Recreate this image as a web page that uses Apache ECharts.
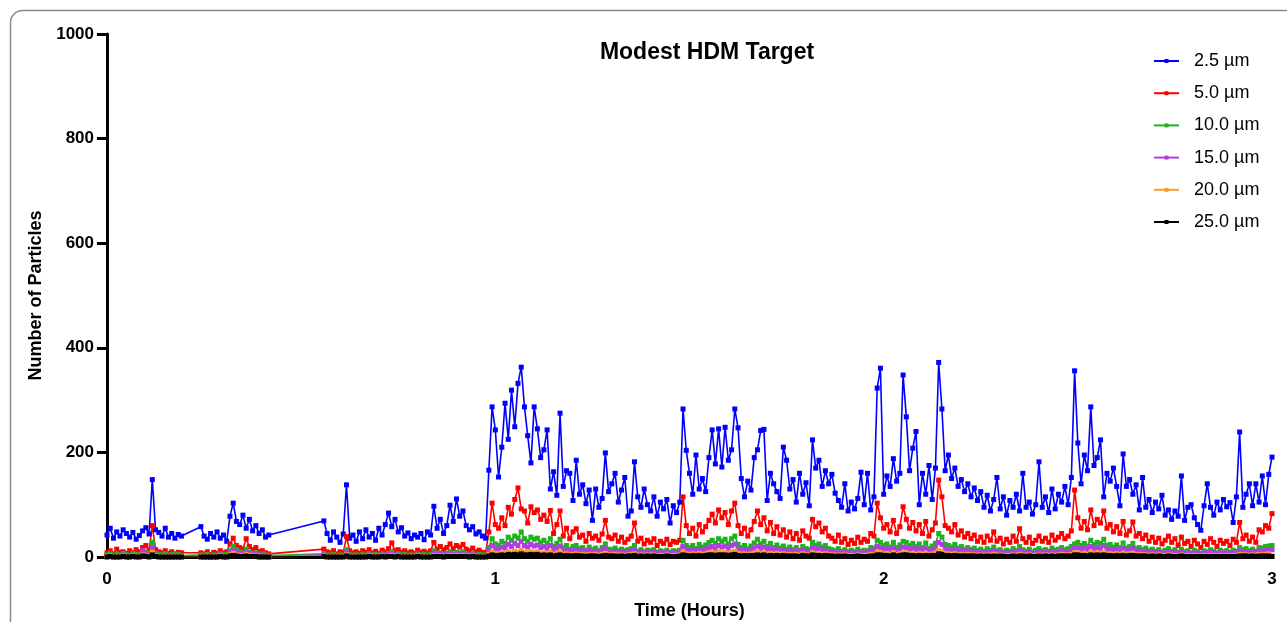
<!DOCTYPE html>
<html>
<head>
<meta charset="utf-8">
<title>Modest HDM Target</title>
<script src="https://cdn.jsdelivr.net/npm/echarts@6/dist/echarts.min.js"></script>
<style>
  html, body { margin: 0; padding: 0; background: #ffffff; }
  #chart { width: 1287px; height: 622px; }
</style>
</head>
<body>
<div id="chart"></div>
<script>
// Particle counter log: one reading every 30 s, recorded in three runs.
const SAMPLES_PER_HOUR = 120;
const RUN_START = [0, 29, 67];           // sample index where each run begins

const SIZE_LABELS = ['2.5 µm', '5.0 µm', '10.0 µm', '15.0 µm', '20.0 µm', '25.0 µm'];
const SIZE_COLORS = ['#0000ff', '#ff0000', '#1db31d', '#b43ce6', '#ff9a2e', '#000000'];
const X_TICKS = [0, 1, 2, 3];
const Y_TICKS = [0, 200, 400, 600, 800, 1000];

// counts per reading, one array per run
const count2_5 = [
  [42,55,36,48,40,52,45,38,47,34,41,50,56,44,148,52,47,40,55,38,45,36,43,40],
  [58,40,34,45,38,48,36,42,30,78,103,68,62,80,55,72,50,60,45,52,38,42],
  [69,45,32,
   48,38,28,44,138,36,42,30,48,35,
   52,38,45,32,55,42,62,84,58,72,
   48,56,40,46,35,42,38,45,33,48,
   42,97,55,72,45,60,99,68,111,78,
   88,60,52,58,44,48,40,36,166,287,
   243,153,210,294,225,319,249,332,363,287,
   232,180,287,245,190,205,243,130,163,118,
   275,135,165,160,108,185,120,138,102,128,
   70,130,95,112,199,125,140,160,105,128,
   152,78,88,182,115,95,130,100,88,115,
   78,105,92,110,65,98,85,105,283,204,
   160,120,195,130,150,125,190,243,178,245,
   172,248,185,205,283,247,150,115,145,128,
   190,205,242,244,108,160,140,125,112,210,
   185,130,148,105,160,120,142,98,224,170,
   185,135,165,140,158,122,108,95,140,88,
   105,92,112,162,100,160,90,115,323,361,
   120,155,135,188,145,160,348,268,165,208,
   240,100,160,120,175,110,170,372,283,165,
   195,150,170,135,148,125,140,115,132,108,
   125,95,118,88,110,152,92,115,80,108,
   95,120,88,160,95,105,82,100,182,95,
   115,85,130,92,120,105,135,100,152,356,
   218,140,195,165,287,175,190,224,115,160,
   145,170,135,98,197,135,148,120,138,90,
   152,95,110,85,105,92,118,80,90,72,
   88,78,155,70,95,100,75,62,51,98,
   140,95,80,105,90,110,96,104,66,115,
   239,95,120,140,98,140,105,155,100,158,191]
];

const count5_0 = [
  [8,12,6,15,9,10,7,12,8,14,10,18,22,12,60,14,10,8,12,7,10,6,9,8],
  [8,6,10,5,9,7,12,8,10,25,36,22,18,15,35,20,14,18,10,12,8,6],
  [15,10,8,
   12,6,10,8,39,12,8,10,7,12,
   9,14,8,11,7,13,10,16,27,12,
   14,9,12,8,10,7,13,9,11,8,
   12,28,15,20,14,18,25,16,22,19,
   24,15,12,17,10,13,9,8,48,103,
   62,55,75,60,95,82,110,132,92,88,
   65,96,85,90,72,80,68,89,45,62,
   88,40,55,35,48,54,38,42,30,45,
   36,40,32,44,70,38,35,42,30,38,
   28,34,40,65,30,36,25,32,28,35,
   22,30,26,34,24,30,28,32,115,60,
   45,55,40,62,48,58,70,82,65,90,
   75,85,62,88,103,60,45,55,40,52,
   68,88,62,75,50,66,45,58,42,52,
   38,48,35,45,32,50,40,36,72,58,
   65,48,55,40,36,30,42,28,35,24,
   32,26,38,28,34,30,45,40,103,75,
   55,62,48,70,45,58,96,72,55,66,
   50,62,45,68,40,52,65,147,115,60,
   55,48,62,42,50,38,45,35,42,30,
   38,28,40,32,48,30,36,25,34,28,
   40,30,54,35,28,38,26,32,40,30,
   36,28,42,32,38,45,35,40,50,128,
   75,55,68,52,90,60,72,65,88,55,
   62,48,58,45,68,42,50,67,40,45,
   35,42,30,38,28,36,25,32,40,28,
   35,22,38,26,30,20,32,25,18,30,
   24,35,28,20,32,26,30,22,34,28,
   66,35,42,30,38,28,52,48,60,55,83]
];

const count10_0 = [
  [4,6,3,5,4,7,5,3,6,4,5,8,10,6,28,7,5,4,6,3,5,4,5,3],
  [4,3,5,2,4,3,6,4,5,12,20,14,10,8,15,9,7,8,5,6,4,3],
  [6,4,3,
   5,2,4,3,14,5,3,4,2,5,
   3,6,4,5,3,6,4,7,10,5,
   6,4,5,3,4,3,6,4,5,3,
   5,12,6,8,5,7,10,6,9,8,
   10,6,5,7,4,5,4,3,18,35,
   25,22,30,26,38,32,40,36,48,35,
   30,38,34,36,28,32,26,35,20,26,
   34,18,22,15,20,22,16,18,13,19,
   14,17,12,18,25,15,14,17,12,15,
   12,14,16,22,11,14,10,13,12,14,
   9,12,10,13,9,12,11,13,32,22,
   18,22,16,24,19,23,28,32,26,35,
   30,34,25,35,40,24,18,22,16,21,
   27,34,25,30,20,26,18,23,17,21,
   15,19,14,18,13,20,16,14,28,22,
   25,19,22,16,14,12,16,11,14,10,
   13,10,15,11,13,12,18,16,32,28,
   22,25,19,28,18,23,30,28,22,26,
   20,25,18,27,16,21,26,45,38,24,
   22,19,24,17,20,15,18,14,17,12,
   15,11,16,13,19,12,14,10,13,11,
   16,12,20,14,11,15,10,13,16,12,
   14,11,17,13,15,18,14,16,20,25,
   28,22,26,21,32,24,28,26,34,22,
   24,19,23,18,27,17,20,26,16,18,
   14,17,12,15,11,14,10,13,16,11,
   14,9,15,10,12,8,13,10,7,12,
   10,14,11,8,13,10,12,9,13,11,
   18,14,16,12,15,11,18,17,20,21,22]
];

const count15_0 = [
  [2,3,1,3,2,4,3,1,3,2,3,12,6,3,18,4,3,2,3,1,3,2,3,1],
  [2,1,3,1,2,1,4,2,3,8,14,9,6,5,10,6,4,5,3,4,2,1],
  [4,2,2,
   3,1,2,2,9,3,2,2,1,3,
   2,4,2,3,2,4,2,5,7,3,
   4,2,3,2,3,2,4,2,3,2,
   3,8,4,5,3,5,7,4,6,5,
   7,4,3,5,2,3,2,2,12,22,
   16,14,19,17,24,20,26,22,30,22,
   19,24,21,23,18,20,16,22,13,17,
   21,12,14,10,13,14,11,12,9,13,
   9,11,8,12,16,10,9,11,8,10,
   8,9,11,14,7,9,7,9,8,9,
   6,8,7,9,6,8,7,9,20,14,
   12,14,10,15,12,15,18,20,16,22,
   19,21,16,22,25,15,12,14,10,13,
   17,21,16,19,13,16,12,15,11,13,
   10,12,9,12,8,13,10,9,18,14,
   16,12,14,10,9,8,10,7,9,6,
   8,6,10,7,8,7,12,10,20,18,
   14,16,12,18,11,15,19,18,14,17,
   13,16,12,17,10,13,17,28,24,15,
   14,12,15,11,13,10,12,9,11,8,
   10,7,10,8,12,8,9,6,8,7,
   10,8,13,9,7,10,6,8,10,8,
   9,7,11,8,10,12,9,10,13,17,
   18,14,17,13,20,15,18,16,22,14,
   15,12,15,11,17,11,13,17,10,12,
   9,11,8,10,7,9,6,8,10,7,
   9,6,10,6,8,5,8,6,5,8,
   6,9,7,5,8,6,8,6,8,7,
   12,9,10,8,10,7,12,11,13,14,14]
];

const count20_0 = [
  [1,2,0,1,1,2,1,0,2,1,1,4,2,1,9,2,1,1,1,0,1,1,1,0],
  [1,0,1,0,1,0,2,1,1,4,7,4,3,2,5,3,2,2,1,1,1,0],
  [2,1,1,
   1,0,1,1,4,1,1,1,0,1,
   1,2,1,1,1,2,1,2,3,1,
   2,1,1,1,1,1,2,1,1,1,
   1,3,2,2,1,2,3,2,3,2,
   3,2,1,2,1,1,1,1,5,9,
   7,6,8,7,10,8,11,9,13,9,
   8,10,9,10,7,8,7,9,5,7,
   9,5,6,4,5,6,4,5,3,5,
   4,5,3,5,7,4,4,5,3,4,
   3,4,5,6,3,4,3,4,3,4,
   2,3,3,4,2,3,3,4,9,6,
   5,6,4,7,5,6,8,9,7,10,
   8,9,7,10,11,7,5,6,4,6,
   7,9,7,8,6,7,5,7,5,6,
   4,5,4,5,3,6,4,4,8,6,
   7,5,6,4,4,3,4,3,4,3,
   3,2,4,3,3,3,5,4,9,8,
   6,7,5,8,5,6,8,8,6,7,
   5,7,5,7,4,6,7,12,10,6,
   6,5,6,4,5,4,5,4,4,3,
   4,3,4,3,5,3,4,2,3,3,
   4,3,5,4,3,4,2,3,4,3,
   4,3,4,3,4,5,4,4,5,8,
   8,6,7,5,9,6,8,7,9,6,
   6,5,6,4,7,5,6,7,4,5,
   4,4,3,4,3,4,2,3,4,3,
   3,2,4,2,3,2,3,2,2,3,
   2,3,3,2,3,2,3,2,3,3,
   5,4,4,3,4,3,5,4,5,6,2]
];

const count25_0 = [
  [0,1,0,0,0,1,0,0,1,0,0,2,1,0,4,1,0,0,0,0,0,0,0,0],
  [0,0,0,0,0,0,1,0,0,2,3,2,1,1,2,1,1,1,0,0,0,0],
  [1,0,0,
   0,0,0,0,2,0,0,0,0,0,
   0,1,0,0,0,1,0,1,1,0,
   1,0,0,0,0,0,1,0,0,0,
   0,1,1,1,0,1,1,1,1,1,
   1,1,0,1,0,0,0,0,2,4,
   3,3,4,3,5,4,5,4,6,4,
   4,5,4,5,3,4,3,4,2,3,
   4,2,3,2,2,3,2,2,1,2,
   2,2,1,2,3,2,2,2,1,2,
   1,2,2,3,1,2,1,2,1,2,
   1,1,1,2,1,1,1,2,4,3,
   2,3,2,3,2,3,4,4,3,4,
   4,4,3,4,5,3,2,3,2,3,
   3,4,3,4,2,3,2,3,2,3,
   2,2,2,2,1,3,2,2,4,3,
   3,2,3,2,2,1,2,1,2,1,
   1,1,2,1,1,1,2,2,4,4,
   3,3,2,4,2,3,4,4,3,3,
   2,3,2,3,2,3,3,6,5,3,
   3,2,3,2,2,2,2,2,2,1,
   2,1,2,1,2,1,2,1,1,1,
   2,1,2,2,1,2,1,1,2,1,
   2,1,2,1,2,2,2,2,2,4,
   4,3,3,2,4,3,4,3,4,3,
   3,2,3,2,3,2,3,3,2,2,
   2,2,1,2,1,2,1,1,2,1,
   1,1,2,1,1,1,1,1,1,1,
   1,1,1,1,1,1,1,1,1,1,
   2,2,2,1,2,1,2,2,2,2,1]
];

const SIZE_COUNTS = [count2_5, count5_0, count10_0, count15_0, count20_0, count25_0];

// turn the runs into [hours, count] pairs
function toPoints(runs) {
  const pts = [];
  runs.forEach((run, r) => {
    run.forEach((v, j) => {
      pts.push([(RUN_START[r] + j) / SAMPLES_PER_HOUR, v]);
    });
  });
  return pts;
}

const FONT = '"Liberation Sans", Arial, Helvetica, sans-serif';

const chart = echarts.init(document.getElementById('chart'), null, { renderer: 'canvas' });

chart.setOption({
  animation: false,
  backgroundColor: '#ffffff',
  graphic: [{
    type: 'rect',
    z: -10,
    silent: true,
    shape: { x: 10.5, y: 10.5, width: 1400, height: 800, r: 12 },
    style: { fill: 'none', stroke: '#8a8a8a', lineWidth: 1.5 }
  }],
  title: {
    text: 'Modest HDM Target',
    left: 707,
    top: 41,
    padding: 0,
    textAlign: 'center',
    textStyle: { fontFamily: FONT, fontWeight: 'bold', fontSize: 23, color: '#000' }
  },
  legend: {
    orient: 'vertical',
    left: 1153,
    top: 52,
    padding: 0,
    itemWidth: 25,
    itemHeight: 5,
    itemGap: 14.2,
    selectedMode: false,
    data: SIZE_LABELS,
    textStyle: {
      fontFamily: FONT, fontSize: 18, color: '#000',
      lineHeight: 18, padding: [0, 0, 0, 10]
    }
  },
  grid: {
    left: 107, right: 15, top: 34, bottom: 65,
    containLabel: false, outerBoundsMode: 'none'
  },
  xAxis: {
    type: 'value',
    min: X_TICKS[0],
    max: X_TICKS[X_TICKS.length - 1],
    interval: 1,
    name: 'Time (Hours)',
    nameLocation: 'middle',
    nameGap: 45,
    nameTextStyle: { fontFamily: FONT, fontWeight: 'bold', fontSize: 18, color: '#000' },
    axisLine: { show: true, onZero: false, lineStyle: { color: '#000', width: 3 } },
    axisTick: { show: false },
    axisLabel: {
      fontFamily: FONT, fontWeight: 'bold', fontSize: 17, color: '#000', margin: 14,
      formatter: v => X_TICKS.includes(v) ? String(v) : ''
    },
    splitLine: { show: false }
  },
  yAxis: {
    type: 'value',
    min: Y_TICKS[0],
    max: Y_TICKS[Y_TICKS.length - 1],
    interval: 200,
    name: 'Number of Particles',
    nameLocation: 'middle',
    nameGap: 62,
    nameTextStyle: { fontFamily: FONT, fontWeight: 'bold', fontSize: 18, color: '#000' },
    axisLine: { show: true, lineStyle: { color: '#000', width: 3 } },
    axisTick: { show: true, length: 10, lineStyle: { color: '#000', width: 3 } },
    axisLabel: {
      fontFamily: FONT, fontWeight: 'bold', fontSize: 17, color: '#000', margin: 13,
      formatter: v => Y_TICKS.includes(v) ? String(v) : ''
    },
    splitLine: { show: false }
  },
  series: SIZE_LABELS.map((name, i) => ({
    name: name,
    type: 'line',
    data: toPoints(SIZE_COUNTS[i]),
    color: SIZE_COLORS[i],
    symbol: 'rect',
    symbolSize: 5,
    showAllSymbol: true,
    connectNulls: true,
    clip: false,
    lineStyle: { width: 1.6, color: SIZE_COLORS[i] },
    itemStyle: { color: SIZE_COLORS[i] },
    emphasis: { disabled: true }
  }))
});
</script>
</body>
</html>
